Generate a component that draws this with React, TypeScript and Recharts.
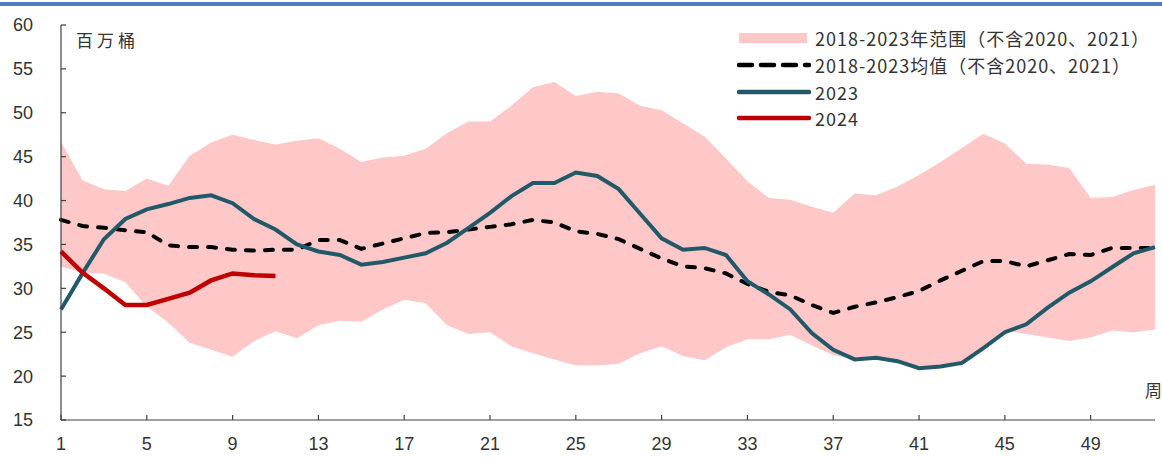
import { ComposedChart, Area, Line, XAxis, YAxis, Legend } from "recharts";

// weekly crude inventory (million barrels)
const weeks = [
  1, 2, 3, 4, 5, 6, 7, 8, 9, 10, 11, 12, 13, 14, 15, 16, 17, 18, 19, 20, 21, 22, 23, 24, 25, 26,
  27, 28, 29, 30, 31, 32, 33, 34, 35, 36, 37, 38, 39, 40, 41, 42, 43, 44, 45, 46, 47, 48, 49, 50, 51, 52,
];
const xTicks = [1, 5, 9, 13, 17, 21, 25, 29, 33, 37, 41, 45, 49];
const yTicks = [15, 20, 25, 30, 35, 40, 45, 50, 55, 60];

const rangeHigh = [
  46.7, 42.3, 41.3, 41.1, 42.5, 41.7, 45.1, 46.6, 47.5, 46.9,
  46.4, 46.8, 47.1, 45.9, 44.4, 44.9, 45.1, 45.9, 47.7, 49.0,
  49.0, 50.8, 52.9, 53.5, 51.9, 52.4, 52.2, 50.8, 50.3, 48.8,
  47.3, 44.8, 42.2, 40.3, 40.1, 39.3, 38.6, 40.8, 40.6, 41.6,
  42.9, 44.4, 46.0, 47.6, 46.5, 44.2, 44.1, 43.7, 40.3, 40.4,
  41.2, 41.8,
];
const rangeLow = [
  32.5, 31.8, 31.7, 30.7, 27.9, 26.1, 23.8, 23.0, 22.2, 24.0,
  25.1, 24.3, 25.8, 26.3, 26.2, 27.6, 28.7, 28.3, 25.8, 24.8,
  25.0, 23.4, 22.6, 21.9, 21.2, 21.2, 21.4, 22.6, 23.4, 22.3,
  21.8, 23.3, 24.2, 24.2, 24.7, 23.5, 22.4, 21.9, 22.0, 21.7,
  20.9, 21.1, 21.5, 23.2, 25.2, 24.8, 24.4, 24.0, 24.4, 25.2,
  25.0, 25.3,
];
const avg = [
  37.8, 37.1, 36.9, 36.6, 36.4, 34.9, 34.7, 34.7, 34.4, 34.3,
  34.4, 34.4, 35.5, 35.5, 34.5, 35.1, 35.7, 36.3, 36.4, 36.7,
  37.0, 37.3, 37.8, 37.5, 36.5, 36.2, 35.6, 34.5, 33.4, 32.5,
  32.3, 31.7, 30.5, 29.6, 29.2, 28.1, 27.2, 27.9, 28.4, 29.0,
  29.7, 30.9, 32.0, 33.1, 33.1, 32.5, 33.2, 33.9, 33.8, 34.6,
  34.6, 34.6,
];
const y2023 = [
  27.6, 31.7, 35.6, 37.9, 39.0, 39.6, 40.3, 40.6, 39.7, 37.9,
  36.7, 35.0, 34.2, 33.8, 32.7, 33.0, 33.5, 34.0, 35.2, 36.9,
  38.6, 40.5, 42.0, 42.0, 43.2, 42.8, 41.3, 38.5, 35.7, 34.4,
  34.6, 33.8, 30.8, 29.3, 27.6, 24.9, 23.0, 21.9, 22.1, 21.7,
  20.9, 21.1, 21.5, 23.2, 25.0, 25.9, 27.8, 29.5, 30.8, 32.4,
  34.0, 34.7,
];
const y2024 = [34.2, 31.8, 30.0, 28.1, 28.1, 28.8, 29.5, 30.9, 31.7, 31.5, 31.4];

const data = weeks.map((w, i) => ({
  week: w,
  range: [rangeLow[i], rangeHigh[i]],
  avg: avg[i],
  y2023: y2023[i],
  y2024: i < y2024.length ? y2024[i] : null,
}));

const AXIS = "#404040";
const TEXT = "#333333";
const PINK = "#fec8c8";
const TEAL = "#215968";
const RED = "#c00000";
const CJK = '"Noto Sans CJK SC", "Noto Sans", sans-serif';

const YTick = ({ x, y, payload }: any) => (
  <g>
    <line x1={x + 28} x2={x + 33} y1={y} y2={y} stroke={AXIS} strokeWidth={1.2} />
    <text x={x} y={y} dy="0.36em" textAnchor="end" fill={TEXT}
      style={{ fontFamily: '"Liberation Sans", Arial, sans-serif', fontSize: 18 }}>
      {payload.value}
    </text>
  </g>
);

const XTick = ({ x, y, payload }: any) => (
  <g>
    <line x1={x} x2={x} y1={y - 17} y2={y - 22} stroke={AXIS} strokeWidth={1.2} />
    <text x={x} y={y} dy="0.71em" textAnchor="middle" fill={TEXT}
      style={{ fontFamily: '"Liberation Sans", Arial, sans-serif', fontSize: 18 }}>
      {payload.value}
    </text>
  </g>
);

const legendRows = [
  { key: "range", label: "2018-2023年范围（不含2020、2021）" },
  { key: "avg", label: "2018-2023均值（不含2020、2021）" },
  { key: "y2023", label: "2023" },
  { key: "y2024", label: "2024" },
];

function Swatch({ kind }: { kind: string }) {
  return (
    <svg width={74} height={14} style={{ display: "block" }}>
      {kind === "range" && <rect x={2} y={2} width={68} height={10} fill={PINK} />}
      {kind === "avg" && (
        <line x1={2} x2={72} y1={7} y2={7} stroke="#000" strokeWidth={4.5}
          strokeDasharray="13 9" strokeLinecap="round" />
      )}
      {kind === "y2023" && (
        <line x1={2} x2={72} y1={7} y2={7} stroke={TEAL} strokeWidth={4.5} strokeLinecap="round" />
      )}
      {kind === "y2024" && (
        <line x1={2} x2={72} y1={7} y2={7} stroke={RED} strokeWidth={4.5} strokeLinecap="round" />
      )}
    </svg>
  );
}

const renderLegend = () => (
  <div>
    {legendRows.map((r) => (
      <div key={r.key} style={{ display: "flex", alignItems: "center", height: 26.7 }}>
        <Swatch kind={r.key} />
        <span style={{ marginLeft: 4, fontFamily: CJK, fontSize: 18, letterSpacing: 1, color: TEXT, whiteSpace: "nowrap" }}>
          {r.label}
        </span>
      </div>
    ))}
  </div>
);

export default function App() {
  return (
    <div style={{ position: "absolute", left: 0, top: 0, width: 1162, height: 458, background: "#fff" }}>
      <div style={{ position: "absolute", left: 0, top: 2, width: 1162, height: 4, background: "#4f7fbb" }} />
      <ComposedChart width={1162} height={458} data={data} margin={{ top: 25, right: 7, bottom: 0, left: 0 }}>
        <XAxis
          dataKey="week"
          type="number"
          domain={[1, 52]}
          ticks={xTicks}
          interval={0}
          height={38}
          tickSize={0}
          tickMargin={17}
          tickLine={false}
          axisLine={{ stroke: AXIS, strokeWidth: 1.2 }}
          tick={<XTick />}
        />
        <YAxis
          type="number"
          domain={[15, 60]}
          ticks={yTicks}
          interval={0}
          width={61}
          tickSize={0}
          tickMargin={28}
          tickLine={false}
          axisLine={{ stroke: AXIS, strokeWidth: 1.2 }}
          tick={<YTick />}
        />
        <Area
          type="linear"
          dataKey="range"
          stroke="none"
          fill={PINK}
          fillOpacity={1}
          isAnimationActive={false}
        />
        <Line type="linear" dataKey="avg" stroke="#000" strokeWidth={4} strokeDasharray="8 11"
          strokeLinecap="round" dot={false} isAnimationActive={false} />
        <Line type="linear" dataKey="y2023" stroke={TEAL} strokeWidth={4} dot={false} isAnimationActive={false} />
        <Line type="linear" dataKey="y2024" stroke={RED} strokeWidth={4.5} dot={false} isAnimationActive={false} />
        <Legend
          layout="vertical"
          align="center"
          verticalAlign="middle"
          content={renderLegend}
          wrapperStyle={{ left: 737, top: 25, width: 430 }}
        />
      </ComposedChart>
      <div style={{ position: "absolute", left: 76, top: 27, fontFamily: CJK, fontSize: 17, letterSpacing: 4, color: TEXT }}>
        百万桶
      </div>
      <div style={{ position: "absolute", left: 1145, top: 377, fontFamily: CJK, fontSize: 17, color: TEXT }}>
        周
      </div>
    </div>
  );
}
